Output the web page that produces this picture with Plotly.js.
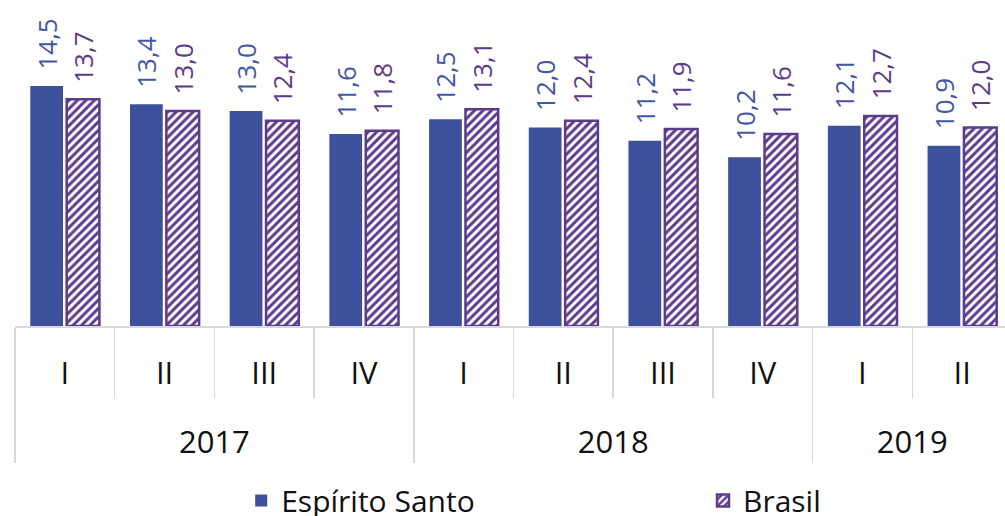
<!DOCTYPE html>
<html>
<head>
<meta charset="utf-8">
<script src="https://cdn.plot.ly/plotly-3.0.1.min.js"></script>
<style>html,body{margin:0;padding:0;background:#fff;}#chart{width:1005px;height:516px;}</style>
</head>
<body>
<div id="chart"></div>
<script>
const years = ['2017','2017','2017','2017','2018','2018','2018','2018','2019','2019'];
const quarters = ['I','II','III','IV','I','II','III','IV','I','II'];
const espiritoSanto = [14.5, 13.4, 13.0, 11.6, 12.5, 12.0, 11.2, 10.2, 12.1, 10.9];
const brasil = [13.7, 13.0, 12.4, 11.8, 13.1, 12.4, 11.9, 11.6, 12.7, 12.0];

const blue = '#3C509C';
const purple = '#5E3A8C';
const FONT = '"Open Sans", "Noto Sans", sans-serif';

// invisible padding (slightly larger spaces and a blank second line) makes the quarter row
// taller, so that the year row sits lower, as in the original
const pad = '<span style="font-size:35px">\u00A0</span>';
const spacer = '<br><span style="color:rgba(255,255,255,0)">.</span>';
const quarterLabels = quarters.map(q => pad + q + pad + spacer);

const common = {
  type: 'bar',
  x: [years, quarterLabels],
  texttemplate: '\u00A0\u00A0%{y:.1f}',
  textposition: 'outside',
  textangle: -90,
  constraintext: 'none',
  cliponaxis: false,
  hoverinfo: 'none'
};

const traces = [
  Object.assign({}, common, {
    name: 'Espírito Santo',
    y: espiritoSanto,
    legend: 'legend',
    marker: {color: blue, line: {width: 0}},
    textfont: {family: FONT, size: 26, color: '#4257A6'}
  }),
  Object.assign({}, common, {
    name: 'Brasil',
    y: brasil,
    legend: 'legend2',
    marker: {
      color: '#ffffff',
      line: {color: purple, width: 2.5},
      pattern: {shape: '/', fgcolor: purple, bgcolor: '#ffffff', size: 6, solidity: 0.5, fillmode: 'replace'}
    },
    textfont: {family: FONT, size: 26, color: purple}
  })
];

const legendBase = {
  orientation: 'h',
  xref: 'container', xanchor: 'left',
  yref: 'container', y: 0.03, yanchor: 'middle',
  font: {family: FONT, size: 30, color: '#111111'},
  bgcolor: 'rgba(0,0,0,0)'
};

const layout = {
  width: 1005,
  height: 516,
  margin: {l: 15, r: 0, t: 10, b: 190},
  paper_bgcolor: '#ffffff',
  plot_bgcolor: '#ffffff',
  font: {family: FONT, color: '#111111'},
  separators: ',.',
  barmode: 'group',
  bargap: 0.27,
  bargroupgap: 0.1,
  showlegend: true,
  legend: Object.assign({}, legendBase, {x: 0.240}),
  legend2: Object.assign({}, legendBase, {x: 0.6995}),
  xaxis: {
    type: 'multicategory',
    range: [-0.5, 9.43],
    autorange: false,
    showline: true,
    linecolor: '#D9D9D9',
    linewidth: 1.5,
    ticks: 'outside',
    tickson: 'boundaries',
    ticklen: 70,
    tickcolor: '#D9D9D9',
    tickwidth: 1.5,
    ticklabelstandoff: 19,
    showdividers: true,
    dividercolor: '#D9D9D9',
    dividerwidth: 1.5,
    showgrid: false,
    tickfont: {family: FONT, size: 31, color: '#111111'},
    fixedrange: true
  },
  yaxis: {
    visible: false,
    range: [0, 19.1],
    autorange: false,
    showgrid: false,
    zeroline: false,
    fixedrange: true
  }
};

Plotly.newPlot('chart', traces, layout, {displayModeBar: false, staticPlot: true});
</script>
</body>
</html>
